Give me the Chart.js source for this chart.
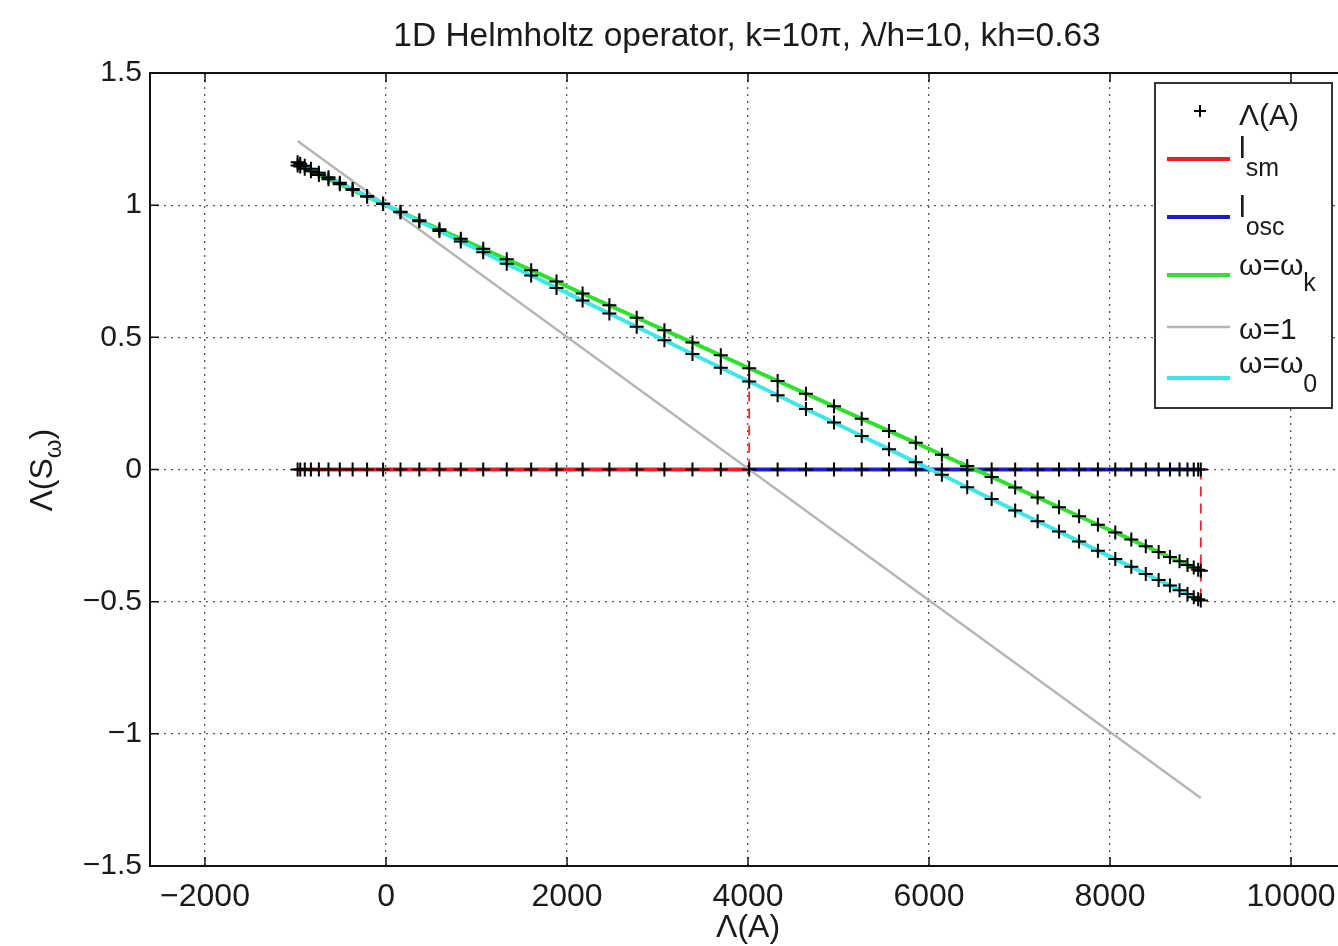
<!DOCTYPE html>
<html>
<head>
<meta charset="utf-8">
<script src="https://cdn.jsdelivr.net/npm/chart.js@4"></script>
<style>
    html, body { margin: 0; padding: 0; background: #fff; overflow: hidden; }
    canvas { display: block; }
</style>
</head>
<body>
<canvas id="grafico" width="1400" height="946"></canvas>
<script>
// eigenvalues of A (x positions of the + marks)
const eigenvalues = [-977, -948, -898, -830, -742, -636, -511, -369, -209, -32,
    160, 368, 590, 826, 1074, 1334, 1604, 1884, 2172, 2468,
    2770, 3076, 3386, 3699, 4013, 4327, 4640, 4950, 5256, 5558,
    5854, 6142, 6422, 6692, 6952, 7200, 7436, 7658, 7866, 8058,
    8235, 8395, 8537, 8662, 8768, 8856, 8925, 8974, 9003];

// Λ(S_ω) for ω = ω_k
const omegaKY = [1.150, 1.146, 1.138, 1.128, 1.114, 1.098, 1.079, 1.057, 1.032, 1.005,
    0.975, 0.943, 0.909, 0.873, 0.835, 0.795, 0.754, 0.711, 0.666, 0.621,
    0.574, 0.527, 0.480, 0.432, 0.383, 0.335, 0.287, 0.239, 0.192, 0.146,
    0.101, 0.056, 0.013, -0.028, -0.068, -0.106, -0.143, -0.177, -0.209, -0.238,
    -0.265, -0.290, -0.312, -0.331, -0.347, -0.361, -0.371, -0.379, -0.383];

// Λ(S_ω) for ω = ω_0
const omega0Y = [1.162, 1.157, 1.149, 1.138, 1.123, 1.106, 1.085, 1.061, 1.035, 1.005,
    0.973, 0.939, 0.902, 0.863, 0.822, 0.778, 0.734, 0.687, 0.639, 0.590,
    0.540, 0.489, 0.437, 0.385, 0.333, 0.281, 0.229, 0.178, 0.127, 0.077,
    0.027, -0.020, -0.067, -0.112, -0.155, -0.196, -0.235, -0.272, -0.307, -0.339,
    -0.368, -0.395, -0.418, -0.439, -0.457, -0.471, -0.483, -0.491, -0.496];

// ω = 1 line
const omega1X = [-977, 9003];
const omega1Y = [1.243, -1.243];

// split between smooth and oscillatory part
const smoothLimit = 4013;

// red dashed guides
const guideSmX = [4013, 4013];
const guideSmY = [0, 0.383];
const guideOscX = [9003, 9003];
const guideOscY = [0, -0.496];

const xTicks = [-2000, 0, 2000, 4000, 6000, 8000, 10000];
const xTickLabels = ["\u22122000", "0", "2000", "4000", "6000", "8000", "10000"];
const yTicks = [-1.5, -1, -0.5, 0, 0.5, 1, 1.5];
const yTickLabels = ["\u22121.5", "\u22121", "\u22120.5", "0", "0.5", "1", "1.5"];

const FONT = "'Liberation Sans', Arial, Helvetica, sans-serif";

const pairs = (xs, ys) => xs.map((x, i) => ({ x: x, y: ys[i] }));

const smoothX = eigenvalues.filter((x) => x <= smoothLimit);
const oscX = eigenvalues.filter((x) => x >= smoothLimit);

const marks = (data) => ({
    data: data,
    showLine: false,
    pointStyle: "cross",
    pointRadius: 7,
    pointBorderWidth: 2,
    borderColor: "#000",
    backgroundColor: "#000",
});

const line = (data, color, width, dash) => ({
    data: data,
    showLine: true,
    borderColor: color,
    backgroundColor: color,
    borderWidth: width,
    borderDash: dash || [],
    pointRadius: 0,
    fill: false,
});

const datasets = [
    marks(eigenvalues.map((x) => ({ x: x, y: 0 }))),
    marks(pairs(eigenvalues, omegaKY)),
    marks(pairs(eigenvalues, omega0Y)),
    line(pairs(guideSmX, guideSmY), "#e8262c", 1.8, [10, 7]),
    line(pairs(guideOscX, guideOscY), "#e8262c", 1.8, [10, 7]),
    line(pairs(eigenvalues, omega0Y), "#3fe6e6", 4),
    line(pairs(eigenvalues, omegaKY), "#2fe02f", 4),
    line(pairs(omega1X, omega1Y), "#b8b4b4", 2.4),
    line(smoothX.map((x) => ({ x: x, y: 0 })), "#ec1c24", 4),
    line(oscX.map((x) => ({ x: x, y: 0 })), "#1c1ccc", 4),
];

// text with subscripts, alphabetic baseline
const drawParts = (ctx, parts, x, y, size, subSize, subY) => {
    let cx = x;
    parts.forEach((p) => {
        const sub = p[1];
        ctx.font = (sub ? subSize : size) + "px " + FONT;
        ctx.fillText(p[0], cx, sub ? subY : y);
        cx += ctx.measureText(p[0]).width;
    });
};

const legendItems = [
    { set: 0, parts: [["\u039b(A)"]], y: 111, base: 125, subBase: 0 },
    { set: 8, parts: [["l"], ["sm", true]], y: 159, base: 158, subBase: 176 },
    { set: 9, parts: [["l"], ["osc", true]], y: 217, base: 217, subBase: 235 },
    { set: 6, parts: [["\u03c9=\u03c9"], ["k", true]], y: 275, base: 275, subBase: 291 },
    { set: 7, parts: [["\u03c9=1"]], y: 327, base: 339, subBase: 0 },
    { set: 5, parts: [["\u03c9=\u03c9"], ["0", true]], y: 378, base: 373, subBase: 392 },
];

const decorations = {
    id: "decorations",
    afterDraw: (chart) => {
        const ctx = chart.ctx;
        const area = chart.chartArea;
        const sx = chart.scales.x;
        const sy = chart.scales.y;
        ctx.save();

        // frame and inner ticks
        ctx.strokeStyle = "#111";
        ctx.lineWidth = 2;
        ctx.strokeRect(area.left, area.top, area.right - area.left, area.bottom - area.top);
        ctx.lineWidth = 1.5;
        ctx.beginPath();
        xTicks.forEach((v) => {
            const px = sx.getPixelForValue(v);
            ctx.moveTo(px, area.bottom);
            ctx.lineTo(px, area.bottom - 9);
            ctx.moveTo(px, area.top);
            ctx.lineTo(px, area.top + 9);
        });
        yTicks.forEach((v) => {
            const py = sy.getPixelForValue(v);
            ctx.moveTo(area.left, py);
            ctx.lineTo(area.left + 9, py);
        });
        ctx.stroke();

        // title and axis titles
        ctx.fillStyle = "#1a1a1a";
        ctx.textAlign = "center";
        ctx.textBaseline = "alphabetic";
        ctx.font = "33.5px " + FONT;
        ctx.fillText("1D Helmholtz operator, k=10\u03c0, \u03bb/h=10, kh=0.63", 747, 46);
        ctx.font = "32px " + FONT;
        ctx.fillText("\u039b(A)", sx.getPixelForValue(4000), 937);

        ctx.save();
        ctx.translate(52, 472);
        ctx.rotate(-Math.PI / 2);
        ctx.textAlign = "left";
        ctx.font = "32px " + FONT;
        const w = ctx.measureText("\u039b(S)").width + 15;
        drawParts(ctx, [["\u039b(S"], ["\u03c9", true], [")"]], -w / 2, 0, 32, 24, 9);
        ctx.restore();

        // legend
        const lx = 1155, ly = 83, lw = 177, lh = 325;
        ctx.fillStyle = "#fff";
        ctx.fillRect(lx, ly, lw, lh);
        ctx.strokeStyle = "#333";
        ctx.lineWidth = 2;
        ctx.strokeRect(lx, ly, lw, lh);
        ctx.textAlign = "left";
        legendItems.forEach((item) => {
            const ds = chart.data.datasets[item.set];
            ctx.beginPath();
            if (item.set === 0) {
                ctx.strokeStyle = "#000";
                ctx.lineWidth = 2;
                ctx.moveTo(1200 - 6, item.y);
                ctx.lineTo(1200 + 6, item.y);
                ctx.moveTo(1200, item.y - 6);
                ctx.lineTo(1200, item.y + 6);
            } else {
                ctx.strokeStyle = ds.borderColor;
                ctx.lineWidth = ds.borderWidth;
                ctx.moveTo(1167, item.y);
                ctx.lineTo(1230, item.y);
            }
            ctx.stroke();
            ctx.fillStyle = "#1a1a1a";
            drawParts(ctx, item.parts, 1239, item.base, 30, 25, item.subBase);
        });
        ctx.restore();
    },
};

new Chart(document.getElementById("grafico"), {
    type: "scatter",
    data: { datasets: datasets },
    plugins: [decorations],
    options: {
        responsive: false,
        animation: false,
        layout: { autoPadding: false, padding: { top: 73, left: 0, right: 0, bottom: 0 } },
        plugins: {
            legend: { display: false },
            tooltip: { enabled: false },
        },
        scales: {
            x: {
                type: "linear",
                min: -2608,
                max: 11204,
                afterBuildTicks: (axis) => {
                    axis.ticks = xTicks.map((v) => ({ value: v }));
                },
                afterFit: (axis) => {
                    axis.height = 80;
                },
                ticks: {
                    callback: (v, i) => xTickLabels[i],
                    color: "#1a1a1a",
                    font: { family: FONT, size: 32 },
                    padding: 12,
                    maxRotation: 0,
                    autoSkip: false,
                },
                grid: { color: "#555", lineWidth: 1.3, drawTicks: false },
                border: { display: false, dash: [2, 5] },
            },
            y: {
                type: "linear",
                min: -1.5,
                max: 1.5,
                afterBuildTicks: (axis) => {
                    axis.ticks = yTicks.map((v) => ({ value: v }));
                },
                afterFit: (axis) => {
                    axis.width = 150;
                },
                ticks: {
                    callback: (v, i) => yTickLabels[i],
                    color: "#1a1a1a",
                    font: { family: FONT, size: 30 },
                    padding: 8,
                    autoSkip: false,
                },
                grid: { color: "#555", lineWidth: 1.3, drawTicks: false },
                border: { display: false, dash: [2, 5] },
            },
        },
    },
});
</script>
</body>
</html>
